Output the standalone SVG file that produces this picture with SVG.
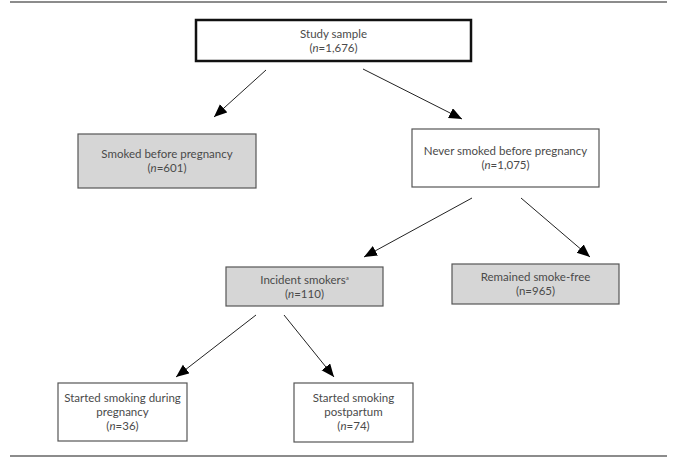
<svg xmlns="http://www.w3.org/2000/svg" width="677" height="459" viewBox="0 0 677 459">
<style>
text{font-family:Lato,"Liberation Sans",sans-serif;font-size:11.5px;fill:#4a4a4a;text-anchor:middle}
.box{fill:#fff;stroke:#555;stroke-width:1.2}
.grey{fill:#d6d6d6;stroke:#555;stroke-width:1.2}
.main{fill:#fff;stroke:#111;stroke-width:2.5}
.rule{stroke:#666;stroke-width:1.5}
.conn{stroke:#222;stroke-width:1;fill:none;marker-end:url(#ah)}
</style>
<defs>
<marker id="ah" markerUnits="userSpaceOnUse" markerWidth="14" markerHeight="12" refX="13" refY="5.5" orient="auto">
<path d="M0,0 L13,5.5 L0,11 Z" fill="#000"/>
</marker>
</defs>
<line class="rule" x1="10" y1="2" x2="667" y2="2"/>
<line class="rule" x1="10" y1="456" x2="667" y2="456"/>
<g id="connectors">
<line class="conn" x1="266" y1="70" x2="214" y2="117"/>
<line class="conn" x1="363" y1="69" x2="462" y2="119"/>
<line class="conn" x1="472" y1="198" x2="364" y2="257"/>
<line class="conn" x1="521" y1="198" x2="590" y2="257"/>
<line class="conn" x1="256" y1="315" x2="176" y2="377"/>
<line class="conn" x1="284" y1="315" x2="334" y2="377"/>
</g>
<g id="study">
<rect class="main" x="196" y="20" width="275" height="41"/>
<text x="333.5" y="37.5">Study sample</text>
<text x="333.5" y="51.5">(<tspan font-style="italic">n</tspan>=1,676)</text>
</g>
<g id="smoked">
<rect class="grey" x="78" y="134" width="178" height="54"/>
<text x="167" y="158">Smoked before pregnancy</text>
<text x="167" y="172">(<tspan font-style="italic">n</tspan>=601)</text>
</g>
<g id="never">
<rect class="box" x="412" y="129" width="187" height="58"/>
<text x="505.5" y="155">Never smoked before pregnancy</text>
<text x="505.5" y="169">(<tspan font-style="italic">n</tspan>=1,075)</text>
</g>
<g id="incident">
<rect class="grey" x="226" y="267" width="157" height="39"/>
<text x="304.5" y="283.5">Incident smokers<tspan font-size="6" dy="-4">a</tspan></text>
<text x="304.5" y="297.5">(<tspan font-style="italic">n</tspan>=110)</text>
</g>
<g id="remained">
<rect class="grey" x="452" y="264" width="167" height="40"/>
<text x="535.5" y="281">Remained smoke-free</text>
<text x="535.5" y="295">(n=965)</text>
</g>
<g id="during">
<rect class="box" x="58" y="383" width="129" height="58"/>
<text x="122.5" y="402">Started smoking during</text>
<text x="122.5" y="416">pregnancy</text>
<text x="122.5" y="430">(<tspan font-style="italic">n</tspan>=36)</text>
</g>
<g id="postpartum">
<rect class="box" x="294" y="383" width="119" height="59"/>
<text x="353.5" y="402">Started smoking</text>
<text x="353.5" y="416">postpartum</text>
<text x="353.5" y="430">(<tspan font-style="italic">n</tspan>=74)</text>
</g>
</svg>
